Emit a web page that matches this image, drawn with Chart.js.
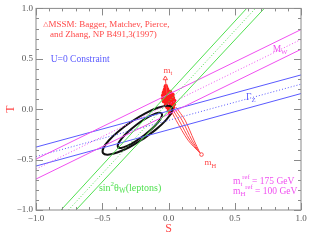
<!DOCTYPE html>
<html>
<head>
<meta charset="utf-8">
<script src="https://cdn.jsdelivr.net/npm/chart.js@4.4.1/dist/chart.umd.min.js"></script>
<style>
  html, body { margin: 0; padding: 0; background: #fff; }
  #wrap { width: 316px; height: 242px; }
</style>
</head>
<body>
<div id="wrap"><canvas id="stChart"></canvas></div>
<script>
// S-T plane, both axes -1..1
const sLimits = [-1, 1];
const tLimits = [-1, 1];
const tickStep = 0.1;

// sin^2 theta_W (leptons) band
const sinLo = [{ x: -0.811, y: -1 }, { x: 0.590, y: 1 }];
const sinMid = [{ x: -0.755, y: -1 }, { x: 0.656, y: 1 }];
const sinHi = [{ x: -0.698, y: -1 }, { x: 0.723, y: 1 }];

// M_W band
const mwHi = [{ x: -1, y: -0.495 }, { x: 1, y: 0.790 }];
const mwMid = [{ x: -1, y: -0.594 }, { x: 1, y: 0.692 }];
const mwLo = [{ x: -1, y: -0.693 }, { x: 1, y: 0.594 }];

// Gamma_Z band
const gzHi = [{ x: -1, y: -0.376 }, { x: 1, y: 0.340 }];
const gzMid = [{ x: -1, y: -0.470 }, { x: 1, y: 0.248 }];
const gzLo = [{ x: -1, y: -0.564 }, { x: 1, y: 0.155 }];

// fit contours
const outerContour = [
    { x: -0.190, y: -0.294 }, { x: -0.293, y: -0.375 }, { x: -0.387, y: -0.430 },
    { x: -0.458, y: -0.451 }, { x: -0.494, y: -0.436 }, { x: -0.491, y: -0.385 },
    { x: -0.449, y: -0.308 }, { x: -0.374, y: -0.216 }, { x: -0.278, y: -0.122 },
    { x: -0.175, y: -0.041 }, { x: -0.081, y: 0.014 }, { x: -0.010, y: 0.035 },
    { x: 0.026, y: 0.020 }, { x: 0.023, y: -0.031 }, { x: -0.019, y: -0.108 },
    { x: -0.094, y: -0.200 }, { x: -0.190, y: -0.294 }
];
const innerContour = [
    { x: -0.186, y: -0.261 }, { x: -0.252, y: -0.321 }, { x: -0.311, y: -0.364 },
    { x: -0.357, y: -0.384 }, { x: -0.381, y: -0.377 }, { x: -0.380, y: -0.345 },
    { x: -0.354, y: -0.292 }, { x: -0.307, y: -0.227 }, { x: -0.246, y: -0.159 },
    { x: -0.180, y: -0.099 }, { x: -0.121, y: -0.056 }, { x: -0.075, y: -0.036 },
    { x: -0.051, y: -0.043 }, { x: -0.052, y: -0.075 }, { x: -0.078, y: -0.128 },
    { x: -0.125, y: -0.193 }, { x: -0.186, y: -0.261 }
];

// MSSM scan points
const mssmPoints = [
    { x: -0.020, y: 0.228 },
    { x: -0.026, y: 0.198 }, { x: -0.011, y: 0.198 },
    { x: -0.034, y: 0.168 }, { x: -0.018, y: 0.168 }, { x: -0.004, y: 0.168 }, { x: 0.012, y: 0.170 },
    { x: -0.040, y: 0.139 }, { x: -0.026, y: 0.139 }, { x: -0.011, y: 0.139 }, { x: 0.004, y: 0.139 },
    { x: 0.019, y: 0.139 }, { x: 0.030, y: 0.145 },
    { x: -0.040, y: 0.109 }, { x: -0.026, y: 0.109 }, { x: -0.011, y: 0.109 }, { x: 0.004, y: 0.109 },
    { x: 0.019, y: 0.109 }, { x: 0.034, y: 0.112 },
    { x: -0.034, y: 0.079 }, { x: -0.020, y: 0.079 }, { x: -0.004, y: 0.079 }, { x: 0.011, y: 0.079 },
    { x: 0.026, y: 0.079 }, { x: 0.042, y: 0.085 },
    { x: -0.018, y: 0.050 }, { x: -0.004, y: 0.050 }, { x: 0.011, y: 0.050 }, { x: 0.026, y: 0.050 },
    { x: 0.040, y: 0.050 },
    { x: -0.008, y: 0.020 }, { x: 0.006, y: 0.020 }, { x: 0.020, y: 0.020 }, { x: 0.034, y: 0.020 },
    { x: 0.004, y: -0.010 }, { x: 0.018, y: -0.010 }, { x: 0.028, y: -0.005 },
    { x: 0.012, y: -0.040 }
];

// SM trajectories: m_t arrow and m_H curves
const mtArrow = [{ x: -0.011, y: 0.150 }, { x: -0.024, y: 0.305 }];
const mhCurve1 = [{ x: 0.011, y: 0.010 }, { x: 0.057, y: -0.109 }, { x: 0.147, y: -0.307 }, { x: 0.238, y: -0.436 }];
const mhCurve2 = [{ x: 0.026, y: 0.010 }, { x: 0.079, y: -0.109 }, { x: 0.162, y: -0.307 }, { x: 0.238, y: -0.436 }];
const mhCurve3 = [{ x: 0.042, y: 0.010 }, { x: 0.102, y: -0.109 }, { x: 0.177, y: -0.307 }, { x: 0.238, y: -0.436 }];
const mhCurve4 = [{ x: 0.057, y: 0.020 }, { x: 0.125, y: -0.109 }, { x: 0.192, y: -0.307 }, { x: 0.238, y: -0.436 }];
const mhEnd = [{ x: 0.249, y: -0.450 }];

const RED = "#ff4848";
const DOT_RED = "#ff1e1e";
const BLUE = "#5a5aff";
const MAGENTA = "#f050f0";
const GREEN = "#50e050";
const SERIF = "'Liberation Serif', 'DejaVu Serif', serif";

function line(data, color, dashed) {
    return {
        data,
        showLine: true,
        borderColor: color,
        borderWidth: 1,
        borderDash: dashed ? [1, 2] : [],
        pointRadius: 0,
        clip: 0,
    };
}

function curve(data, color, width, tension) {
    return Object.assign(line(data, color, false), { tension, borderWidth: width });
}

const isMajor = (v) => Math.abs(v * 2 - Math.round(v * 2)) < 1e-6;
const fmtTick = (v) => {
    if (!isMajor(v)) return "";
    const r = Math.round(v * 10) / 10;
    return (r < 0 ? "\u2212" : "") + Math.abs(r).toFixed(1);
};

// frame with inward ticks on all four sides
const framePlugin = {
    id: "frame",
    afterDatasetsDraw(chart) {
        const { ctx, chartArea: a, scales } = chart;
        ctx.save();
        ctx.strokeStyle = "#8a8a8a";
        ctx.lineWidth = 1;
        ctx.strokeRect(a.left, a.top, a.right - a.left, a.bottom - a.top);
        ctx.beginPath();
        scales.x.ticks.forEach((t) => {
            const px = Math.round(scales.x.getPixelForValue(t.value)) + 0.5;
            const len = isMajor(t.value) ? 7 : 3;
            ctx.moveTo(px, a.bottom); ctx.lineTo(px, a.bottom - len);
            ctx.moveTo(px, a.top); ctx.lineTo(px, a.top + len);
        });
        scales.y.ticks.forEach((t) => {
            const py = Math.round(scales.y.getPixelForValue(t.value)) + 0.5;
            const len = isMajor(t.value) ? 7 : 3;
            ctx.moveTo(a.left, py); ctx.lineTo(a.left + len, py);
            ctx.moveTo(a.right, py); ctx.lineTo(a.right - len, py);
        });
        ctx.stroke();
        ctx.restore();
    },
    afterDraw(chart) {
        const { ctx, scales } = chart;
        const X = (v) => scales.x.getPixelForValue(v);
        const Y = (v) => scales.y.getPixelForValue(v);

        // parts: [text, kind] with kind '', 'sub', 'sup', 'sym'
        function label(s, t, parts, color, size) {
            let cx = X(s);
            const cy = Y(t);
            ctx.save();
            ctx.fillStyle = color;
            ctx.textBaseline = "middle";
            ctx.textAlign = "left";
            parts.forEach(([txt, kind]) => {
                let fs = size, dy = 0;
                if (kind === "sub") { fs = size * 0.72; dy = size * 0.3; }
                if (kind === "sup") { fs = size * 0.7; dy = -size * 0.4; }
                if (kind === "sym") { fs = size * 0.75; }
                ctx.font = fs + "px " + SERIF;
                ctx.fillText(txt, cx, cy + dy);
                cx += ctx.measureText(txt).width;
            });
            ctx.restore();
        }

        label(-0.945, 0.842, [["\u25B3", "sym"], ["MSSM: Bagger, Matchev, Pierce,", ""]], RED, 9);
        label(-0.894, 0.743, [["and Zhang, NP B491,3(1997)", ""]], RED, 9);
        label(-0.889, 0.495, [["U=0 Constraint", ""]], BLUE, 9.5);
        label(0.786, 0.591, [["M", ""], ["W", "sub"]], MAGENTA, 9.5);
        label(0.585, 0.119, [["\u0393", ""], ["Z", "sub"]], BLUE, 9.5);
        label(-0.525, -0.782, [["sin", ""], ["2", "sup"], ["\u03B8", ""], ["W", "sub"], ["(leptons)", ""]], GREEN, 10);
        label(0.487, -0.713, [["m", ""], ["t", "sub"], ["ref", "sup"], [" = 175 GeV", ""]], MAGENTA, 9.5);
        label(0.487, -0.812, [["m", ""], ["H", "sub"], ["ref", "sup"], [" = 100 GeV", ""]], MAGENTA, 9.5);
        label(-0.037, 0.378, [["m", ""], ["t", "sub"]], RED, 9);
        label(0.272, -0.535, [["m", ""], ["H", "sub"]], RED, 9);
    },
};

const tickFont = { family: SERIF, size: 9 };

new Chart(document.getElementById("stChart"), {
    type: "scatter",
    data: {
        datasets: [
            line(sinLo, GREEN), line(sinMid, GREEN, true), line(sinHi, GREEN),
            line(mwHi, MAGENTA), line(mwMid, MAGENTA, true), line(mwLo, MAGENTA),
            line(gzHi, BLUE), line(gzMid, BLUE, true), line(gzLo, BLUE),
            curve(outerContour, "#111", 2, 0.4),
            curve(innerContour, "#111", 2, 0.4),
            curve(mhCurve1, RED, 1, 0.25), curve(mhCurve2, RED, 1, 0.25),
            curve(mhCurve3, RED, 1, 0.25), curve(mhCurve4, RED, 1, 0.25),
            {
                data: mtArrow,
                showLine: true,
                borderColor: RED,
                borderWidth: 1,
                pointStyle: "triangle",
                pointRadius: [0, 2.5],
                pointBorderColor: RED,
                pointBackgroundColor: "#fff",
                pointBorderWidth: 1,
            },
            {
                data: mhEnd,
                pointStyle: "circle",
                pointRadius: 1.8,
                pointBorderColor: RED,
                pointBackgroundColor: "#fff",
                pointBorderWidth: 1,
            },
            {
                data: mssmPoints,
                pointStyle: "circle",
                pointRadius: 2.2,
                pointBorderWidth: 0,
                pointBackgroundColor: DOT_RED,
            },
        ],
    },
    options: {
        responsive: true,
        maintainAspectRatio: false,
        animation: false,
        layout: { padding: { top: 8, right: 15, left: 0, bottom: 0 } },
        plugins: { legend: { display: false }, tooltip: { enabled: false } },
        scales: {
            x: {
                type: "linear",
                min: sLimits[0],
                max: sLimits[1],
                grid: { display: false, drawTicks: false },
                border: { display: false },
                ticks: {
                    stepSize: tickStep,
                    autoSkip: false,
                    maxRotation: 0,
                    padding: 3,
                    color: "#555",
                    font: tickFont,
                    callback: fmtTick,
                },
                title: {
                    display: true,
                    text: "S",
                    color: RED,
                    font: { family: SERIF, size: 12 },
                    padding: { top: 0, bottom: 6 },
                },
                afterFit: (scale) => { scale.height = 32; },
            },
            y: {
                type: "linear",
                min: tLimits[0],
                max: tLimits[1],
                grid: { display: false, drawTicks: false },
                border: { display: false },
                ticks: {
                    stepSize: tickStep,
                    autoSkip: false,
                    padding: 3,
                    color: "#555",
                    font: tickFont,
                    callback: fmtTick,
                },
                title: {
                    display: true,
                    text: "T",
                    color: RED,
                    font: { family: SERIF, size: 12 },
                    padding: { top: 4, bottom: 0 },
                },
                afterFit: (scale) => { scale.width = 36; },
            },
        },
    },
    plugins: [framePlugin],
});
</script>
</body>
</html>
